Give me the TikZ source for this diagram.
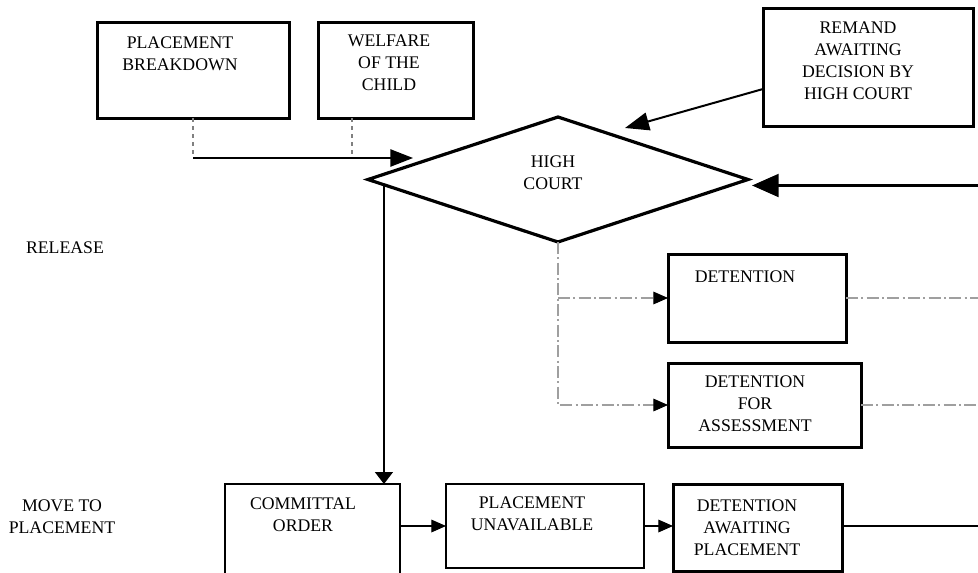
\documentclass[tikz,border=0pt]{standalone}
\usepackage{fontspec}
\setmainfont{Liberation Serif}
\usetikzlibrary{arrows.meta,shapes.geometric,calc}
\begin{document}
\begin{tikzpicture}[x=0.75pt,y=-0.75pt,
  every node/.style={inner sep=0pt, outer sep=0pt},
  lbl/.style={align=center, anchor=north, font=\fontsize{13.3}{16.5}\selectfont},
  heavybox/.style={draw, rectangle, line width=2.25pt},
  lightbox/.style={draw, rectangle, line width=1pt},
  court/.style={draw, diamond, line width=2.4pt},
  feed/.style={line width=1.1pt, -{Triangle[length=17pt,width=13pt]}},
  feeddrop/.style={line width=0.8pt, gray, dashed},
  remandarrow/.style={line width=1.5pt, -{Triangle[length=18pt,width=13.5pt]}},
  returnarrow/.style={line width=2.4pt, -{Triangle[length=20pt,width=17pt]}},
  commitarrow/.style={line width=1.1pt, -{Triangle[length=9pt,width=13.5pt]}},
  steparrow/.style={line width=0.9pt, -{Triangle[length=11pt,width=9.5pt]}},
  optionline/.style={line width=0.8pt, gray!75, dash pattern=on 9pt off 2.5pt on 1.5pt off 2.5pt},
  optionarrow/.style={optionline, -{Triangle[length=11pt,width=9.5pt,black]}},
]
\useasboundingbox (0,0) rectangle (978,572);

% top row: inputs to the court
\node[heavybox, minimum width=144pt, minimum height=72pt] (pb) at (193,70) {};
\node[lbl] (pbt) at (180,36.5) {PLACEMENT\\BREAKDOWN};
\node[heavybox, minimum width=116.25pt, minimum height=72pt] (wc) at (395.5,70) {};
\node[lbl] (wct) at (389,34.5) {WELFARE\\OF THE\\CHILD};
\node[heavybox, minimum width=157.5pt, minimum height=88.5pt] (rm) at (868,67) {};
\node[lbl] (rmt) at (858,21.5) {REMAND\\AWAITING\\DECISION BY\\HIGH COURT};

% the decision
\node[court, minimum width=285pt, minimum height=93.75pt] (hc) at (558,179.5) {};
\node[lbl] (hct) at (553,155.5) {HIGH\\COURT};

% row labels
\node[lbl] (rel) at (65,241.5) {RELEASE};
\node[lbl] (mtp) at (62,499.5) {MOVE TO\\PLACEMENT};

% detention options
\node[heavybox, minimum width=133.5pt, minimum height=66pt] (det) at (757,298) {};
\node[lbl] (dett) at (745,270.5) {DETENTION};
\node[heavybox, minimum width=144.75pt, minimum height=63pt] (dfa) at (764.5,405) {};
\node[lbl] (dfat) at (755,375.5) {DETENTION\\FOR\\ASSESSMENT};

% bottom row
\node[lightbox, minimum width=131.25pt, minimum height=67.5pt] (co) at (312.5,529) {};
\node[lbl] (cot) at (303,497.5) {COMMITTAL\\ORDER};
\node[lightbox, minimum width=148.5pt, minimum height=63pt] (pu) at (545,526) {};
\node[lbl] (put) at (532,496.5) {PLACEMENT\\UNAVAILABLE};
\node[heavybox, minimum width=126.75pt, minimum height=65.25pt] (dap) at (757.5,527.5) {};
\node[lbl] (dapt) at (747,499.5) {DETENTION\\AWAITING\\PLACEMENT};

% free ends
\coordinate (feedtip) at (413,158);
\coordinate (remandtip) at (625,128);
\coordinate (returntip) at ($(hc.east)+(4,6)$);
\coordinate (returnstart) at ($(returntip)+(230,0)$);
\coordinate (detout) at (980,298);
\coordinate (dfaout) at (980,405);
\coordinate (dapout) at (980,526);

% inputs from the top boxes
\coordinate (pbdrop) at (pb.south |- feedtip);
\coordinate (wctop) at ($(wc.south west)+(34,0)$);
\coordinate (wcdrop) at (wctop |- feedtip);
\draw[feeddrop] (pb.south) -- (pbdrop);
\draw[feeddrop] (wctop) -- (wcdrop);
\draw[feed] (pbdrop) -- (feedtip);
\draw[remandarrow] ($(rm.west)+(0,22)$) -- (remandtip);
\draw[returnarrow] (returnstart) -- (returntip);

% court to committal order
\coordinate (lc) at ($(hc.west)!0.084!(hc.south)$);
\draw[commitarrow] (lc) -- (lc |- co.north);

% court to detention options
\coordinate (branch) at (hc.south |- det.west);
\draw[optionarrow] (hc.south) |- (dfa.west);
\draw[optionarrow] (branch) -- (det.west);
\draw[optionline] (det.east) -- (detout);
\draw[optionline] (dfa.east) -- (dfaout);

% placement chain
\draw[steparrow] (co.east |- pu.west) -- (pu.west);
\draw[steparrow] (pu.east) -- (pu.east -| dap.west);
\draw[line width=0.9pt] (dap.east |- dapout) -- (dapout);
\end{tikzpicture}
\end{document}
